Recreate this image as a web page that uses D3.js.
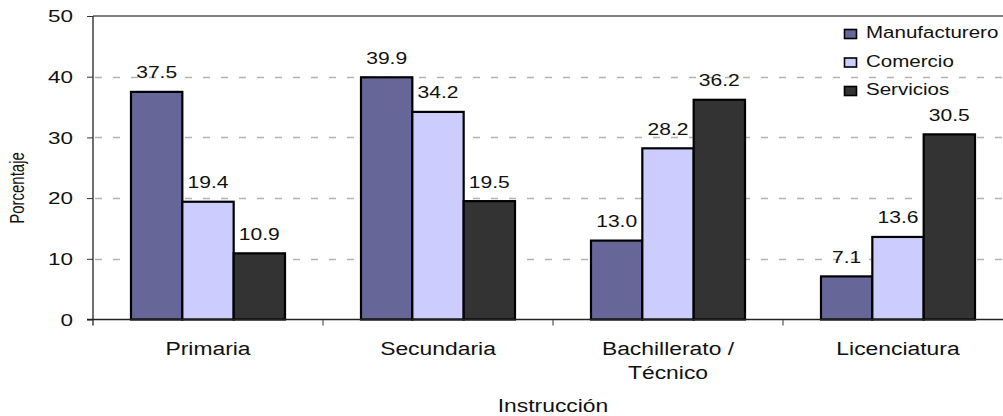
<!DOCTYPE html>
<html>
<head>
<meta charset="utf-8">
<script src="https://cdn.jsdelivr.net/npm/d3@7"></script>
<style>
  html, body { margin: 0; padding: 0; background: #fff; }
  svg { display: block; }
  text { font-family: Arial, "Liberation Sans", sans-serif; fill: #111; }
</style>
</head>
<body>
<svg id="chart" width="1003" height="416"></svg>
<script>
// Nivel de instrucción por sector (porcentaje)
const categories = ["Primaria", "Secundaria", "Bachillerato / Técnico", "Licenciatura"];
const categoryLines = [["Primaria"], ["Secundaria"], ["Bachillerato /", "Técnico"], ["Licenciatura"]];
const seriesNames = ["Manufacturero", "Comercio", "Servicios"];
const manufacturero = [37.5, 39.9, 13.0, 7.1];
const comercio = [19.4, 34.2, 28.2, 13.6];
const servicios = [10.9, 19.5, 36.2, 30.5];
const yTicks = [0, 10, 20, 30, 40, 50];
const colors = ["#666699", "#ccccff", "#333333"];

const seriesValues = [manufacturero, comercio, servicios];

// Typography is horizontally widened
const STRETCH = 1.3;

const svg = d3.select("#chart");
const plotLeft = 93, plotTop = 16, plotBottom = 319.5, plotRight = 1013;

const x = d3.scaleBand().domain(categories).range([plotLeft, plotRight]).paddingInner(0).paddingOuter(0);
const xs = d3.scaleBand().domain(seriesNames).range([0, x.bandwidth()]).paddingInner(0).paddingOuter(0.74);
const y = d3.scaleLinear().domain([0, 50]).range([plotBottom, plotTop]);

// Places a widened text label at (px, py)
function label(parent, px, py, str, size, anchor) {
  const g = parent.append("g").attr("transform", `translate(${px},${py})`);
  g.append("text")
    .attr("transform", `scale(${STRETCH},1)`)
    .attr("text-anchor", anchor || "middle")
    .attr("font-size", size)
    .text(str);
  return g;
}

// Gridlines
svg.append("g").selectAll("line").data(yTicks.filter(d => d > 0 && d < 50)).join("line")
  .attr("x1", plotLeft + 2).attr("x2", 1003)
  .attr("y1", d => Math.round(y(d)) + 0.5).attr("y2", d => Math.round(y(d)) + 0.5)
  .attr("stroke", "#b4b4b4").attr("stroke-width", 1.3)
  .attr("stroke-dasharray", "7,11");

// Top border of plot area
svg.append("line").attr("x1", plotLeft).attr("x2", 1003)
  .attr("y1", y(50)).attr("y2", y(50))
  .attr("stroke", "#808080").attr("stroke-width", 2);

// Bars
const groups = svg.append("g").selectAll("g").data(categories).join("g")
  .attr("transform", d => `translate(${x(d)},0)`);

const cells = (d, i) => seriesNames.map((s, j) => ({ s, j, v: seriesValues[j][i] }));

groups.selectAll("rect").data(cells).join("rect")
  .attr("x", d => xs(d.s))
  .attr("width", xs.bandwidth())
  .attr("y", d => y(d.v))
  .attr("height", d => y(0) - y(d.v))
  .attr("fill", d => colors[d.j])
  .attr("stroke", "#000").attr("stroke-width", 2.2);

groups.each(function(c, i) {
  const g = d3.select(this);
  cells(c, i).forEach(d => {
    label(g, xs(d.s) + xs.bandwidth() / 2, y(d.v) - 13.5, d.v.toFixed(1), 16.2);
  });
});

// Y axis
const yAxis = d3.axisLeft(y).tickValues(yTicks).tickSize(6).tickFormat(() => "");
const gy = svg.append("g").attr("transform", `translate(${plotLeft},0)`).call(yAxis);
gy.select(".domain").attr("stroke", "#222").attr("stroke-width", 1.3)
  .attr("d", `M0,${plotTop}V${plotBottom + 6}`);
gy.selectAll(".tick line").attr("stroke", "#333");
yTicks.forEach(t => label(svg, 73, y(t) + 6.2, String(t), 17.3, "end"));

// X axis
svg.append("line").attr("x1", plotLeft - 6).attr("x2", 1003)
  .attr("y1", plotBottom).attr("y2", plotBottom).attr("stroke", "#222").attr("stroke-width", 1.3);
svg.append("g").selectAll("line").data(categories.slice(1)).join("line")
  .attr("x1", d => x(d)).attr("x2", d => x(d))
  .attr("y1", plotBottom).attr("y2", plotBottom + 6)
  .attr("stroke", "#333");

categories.forEach((c, i) => {
  categoryLines[i].forEach((line, k) => {
    label(svg, x(c) + x.bandwidth() / 2, 355 + k * 24, line, 17.6);
  });
});

// Axis titles
label(svg, (plotLeft + plotRight) / 2, 412, "Instrucción", 17.6);
svg.append("g").attr("transform", "translate(24,188) rotate(-90)")
  .append("text")
  .attr("transform", `scale(1,${STRETCH})`)
  .attr("text-anchor", "middle").attr("font-size", 15).text("Porcentaje");

// Legend
const legend = svg.append("g");
seriesNames.forEach((s, i) => {
  const ly = 38 + i * 28.5;
  legend.append("rect").attr("x", 844.5).attr("y", ly - 8.5).attr("width", 12).attr("height", 9)
    .attr("fill", colors[i]).attr("stroke", "#000").attr("stroke-width", 1.6);
  label(legend, 866, ly, s, 15.8, "start");
});
</script>
</body>
</html>
